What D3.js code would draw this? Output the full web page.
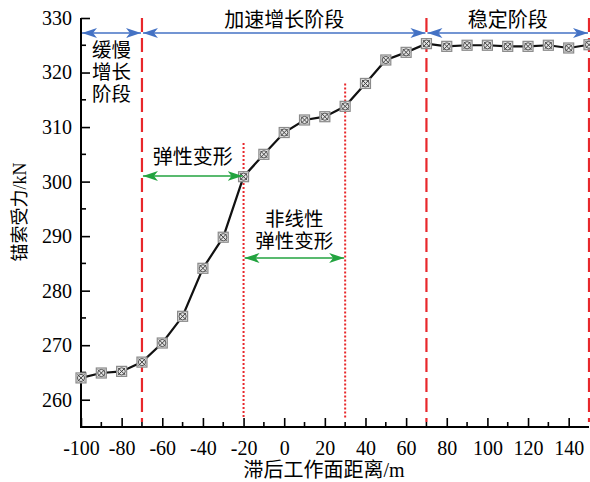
<!DOCTYPE html>
<html><head><meta charset="utf-8">
<script src="https://cdn.jsdelivr.net/npm/d3@7/dist/d3.min.js"></script>
<style>
html,body{margin:0;padding:0;background:#fff;}
svg{display:block;font-family:"Liberation Serif","Noto Sans CJK SC",serif;}
</style></head>
<body><svg id="chart" width="590" height="482"></svg>
<script>
const distance = [-100,-90,-80,-70,-60,-50,-40,-30,-20,-10,0,10,20,30,40,50,60,70,80,90,100,110,120,130,140,150];
const force = [264.0,264.9,265.2,266.9,270.4,275.3,284.1,289.8,300.9,305.0,309.0,311.3,311.9,313.8,318.0,322.3,323.7,325.3,324.8,325.0,325.0,324.8,324.8,325.0,324.5,325.1];
const xTicks = [-100,-80,-60,-40,-20,0,20,40,60,80,100,120,140];
const yTicks = [260,270,280,290,300,310,320,330];
const stageLines = [-70,70,150];
const elasticLines = [-20,30];
const stageLabels = ["缓慢增长阶段","加速增长阶段","稳定阶段"];
const elasticLabels = ["弹性变形","非线性弹性变形"];

const svg = d3.select("#chart");
const x = d3.scaleLinear().domain([-100,150]).range([81,589]);
const y = d3.scaleLinear().domain([255,330]).range([427,18]);

const defs = svg.append("defs");
function arrowMarker(id,color,start){
  const m = defs.append("marker").attr("id",id).attr("markerUnits","userSpaceOnUse")
    .attr("markerWidth",16).attr("markerHeight",12).attr("refX",start?0:15).attr("refY",6)
    .attr("orient","auto");
  if(start) m.append("path").attr("d","M0,6 L15,1 L11,6 L15,11 Z").attr("fill",color);
  else m.append("path").attr("d","M15,6 L0,1 L4,6 L0,11 Z").attr("fill",color);
}
arrowMarker("bs","#4472c4",true); arrowMarker("be","#4472c4",false);
arrowMarker("gs","#22a33f",true); arrowMarker("ge","#22a33f",false);

// axes
const xAxis = d3.axisBottom(x).tickValues(xTicks).tickSize(-9).tickPadding(14).tickFormat(d=>String(d));
const gx = svg.append("g").attr("transform",`translate(0,${y(255)})`).call(xAxis);
gx.select(".domain").remove();
gx.selectAll(".tick line").attr("stroke","#000").attr("stroke-width",1.6);
gx.selectAll("text").attr("font-size",20).attr("fill","#000").attr("font-family","Liberation Serif");
const xMinor = d3.range(-90,150,20);
svg.append("g").selectAll("line").data(xMinor).join("line")
  .attr("x1",d=>x(d)).attr("x2",d=>x(d)).attr("y1",y(255)).attr("y2",y(255)-5)
  .attr("stroke","#000").attr("stroke-width",1.6);

const yAxis = d3.axisLeft(y).tickValues(yTicks).tickSize(-9).tickPadding(9).tickFormat(d=>String(d));
const gy = svg.append("g").attr("transform",`translate(${x(-100)},0)`).call(yAxis);
gy.select(".domain").remove();
gy.selectAll(".tick line").attr("stroke","#000").attr("stroke-width",1.6);
gy.selectAll("text").attr("font-size",20).attr("fill","#000").attr("font-family","Liberation Serif");
const yMinor = d3.range(255,330,10);
svg.append("g").selectAll("line").data(yMinor).join("line")
  .attr("x1",x(-100)).attr("x2",x(-100)+5).attr("y1",d=>y(d)).attr("y2",d=>y(d))
  .attr("stroke","#000").attr("stroke-width",1.6);

svg.append("line").attr("x1",x(-100)).attr("x2",x(-100)).attr("y1",y(330)).attr("y2",y(255)+1)
  .attr("stroke","#000").attr("stroke-width",2);
svg.append("line").attr("x1",x(-100)-1).attr("x2",x(150)).attr("y1",y(255)).attr("y2",y(255))
  .attr("stroke","#000").attr("stroke-width",2);

// stage lines
svg.append("g").selectAll("line").data(stageLines).join("line")
  .attr("x1",d=>x(d)).attr("x2",d=>x(d)).attr("y1",y(330)).attr("y2",y(255)-5)
  .attr("stroke","#e8272b").attr("stroke-width",2.2).attr("stroke-dasharray","14,6");
const elasticTop = [y(307.1),y(318)];
svg.append("g").selectAll("line").data(elasticLines).join("line")
  .attr("x1",d=>x(d)).attr("x2",d=>x(d)).attr("y1",(d,i)=>elasticTop[i]).attr("y2",y(255)-8)
  .attr("stroke","#e8272b").attr("stroke-width",2).attr("stroke-dasharray","2,2");

// data line
const line = d3.line().x((d,i)=>x(distance[i])).y(d=>y(d));
svg.append("path").datum(force).attr("d",line).attr("fill","none").attr("stroke","#111").attr("stroke-width",2.2);
const mk = svg.append("g").selectAll("g").data(force).join("g")
  .attr("transform",(d,i)=>`translate(${x(distance[i])},${y(d)})`);
mk.append("rect").attr("x",-5).attr("y",-5).attr("width",10).attr("height",10)
  .attr("fill","#e4e4e4").attr("stroke","#8a8a8a").attr("stroke-width",1.2);
mk.append("circle").attr("r",3.6).attr("fill","none").attr("stroke","#555").attr("stroke-width",1);
mk.append("path").attr("d","M-3.5,-3.5L3.5,3.5M-3.5,3.5L3.5,-3.5").attr("stroke","#444").attr("stroke-width",1);

// stage arrows
const arrowY = 33;
const segs = [[x(-100)+1,x(-70)-1],[x(-70)+1,x(70)-1],[x(70)+1,x(150)-1]];
svg.append("g").selectAll("line").data(segs).join("line")
  .attr("x1",d=>d[0]).attr("x2",d=>d[1]).attr("y1",arrowY).attr("y2",arrowY)
  .attr("stroke","#4472c4").attr("stroke-width",1.6)
  .attr("marker-start","url(#bs)").attr("marker-end","url(#be)");
const tf = "Noto Sans CJK SC";
svg.append("text").attr("x",(x(-70)+x(70))/2).attr("y",27).attr("text-anchor","middle")
  .attr("font-size",20).attr("font-family",tf).text(stageLabels[1]);
svg.append("text").attr("x",(x(70)+x(150))/2).attr("y",27).attr("text-anchor","middle")
  .attr("font-size",20).attr("font-family",tf).text(stageLabels[2]);

function multiline(lines, cx, y0, dy, fs){
  const t = svg.append("text").attr("text-anchor","middle").attr("font-size",fs)
    .attr("font-family","'Liberation Serif','Noto Sans CJK SC'");
  lines.forEach((s,i)=>t.append("tspan").attr("x",cx).attr("y",y0+i*dy).text(s));
  return t;
}
multiline([stageLabels[0].slice(0,2),stageLabels[0].slice(2,4),stageLabels[0].slice(4)],
  (x(-100)+x(-70))/2, 57, 22, 19.5);

// elastic arrows
const gsegs = [[x(-70)+1,x(-20)-1,176],[x(-20)+1,x(30)-1,258]];
svg.append("g").selectAll("line").data(gsegs).join("line")
  .attr("x1",d=>d[0]).attr("x2",d=>d[1]).attr("y1",d=>d[2]).attr("y2",d=>d[2])
  .attr("stroke","#22a33f").attr("stroke-width",1.6)
  .attr("marker-start","url(#gs)").attr("marker-end","url(#ge)");
svg.append("text").attr("x",(x(-70)+x(-20))/2).attr("y",164).attr("text-anchor","middle")
  .attr("font-size",20).attr("font-family",tf).text(elasticLabels[0]);
multiline([elasticLabels[1].slice(0,3),elasticLabels[1].slice(3)], (x(-20)+x(30))/2, 226, 21.8, 19.5);

// axis titles
svg.append("text").attr("transform","translate(26,212) rotate(-90)").attr("text-anchor","middle")
  .attr("font-size",18).text("锚索受力/kN");
svg.append("text").attr("x",324).attr("y",477).attr("text-anchor","middle")
  .attr("font-size",20).text("滞后工作面距离/m");
</script></body></html>
